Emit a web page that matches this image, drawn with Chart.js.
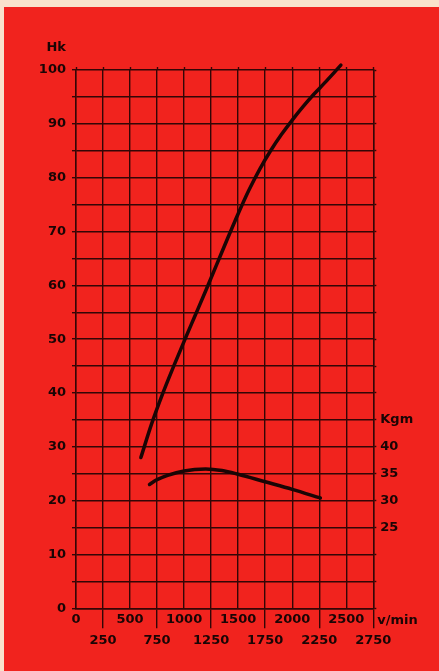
<!DOCTYPE html>
<html>
<head>
<meta charset="utf-8">
<script src="https://cdn.jsdelivr.net/npm/chart.js@4/dist/chart.umd.min.js"></script>
<style>
  html, body { margin: 0; padding: 0; background: #f9e2cc; }
  #wrap { position: relative; width: 439px; height: 671px; }
</style>
</head>
<body>
<div id="wrap"><canvas id="myChart"></canvas></div>
<script>
// rpm / Hk (effekt) och rpm / Kgm (vridmoment)
var rpmEffekt = [600, 700, 800, 900, 1000, 1100, 1200, 1300, 1400, 1500, 1600, 1700, 1800, 1900, 2000, 2100, 2200, 2300, 2450]
var hk = [28, 34.3, 39.8, 44.8, 49.6, 54.3, 59.0, 63.8, 68.6, 73.3, 77.7, 81.6, 85.0, 88.0, 90.7, 93.2, 95.5, 97.6, 100.9]

var rpmMoment = [680, 750, 1000, 1200, 1350, 1500, 1750, 2000, 2260]
var kgm = [33.0, 33.9, 35.5, 35.9, 35.6, 34.9, 33.5, 32.1, 30.5]

var xOvre = [0, 500, 1000, 1500, 2000, 2500]
var xUndre = [250, 750, 1250, 1750, 2250, 2750]
var hkEtiketter = [0, 10, 20, 30, 40, 50, 60, 70, 80, 90, 100]
var kgmEtiketter = [25, 30, 35, 40]

var rott = '#f1231e'
var svart = '#1a0505'
var rutnat = '#330606'
var font = { family: 'DejaVu Sans', weight: 'bold', size: 13 }

function punkter(xs, ys) {
    return xs.map(function (x, i) { return { x: x, y: ys[i] } })
}

var bakgrund = {
    id: 'bakgrund',
    beforeDraw: function (chart) {
        var c = chart.ctx
        c.save()
        c.fillStyle = rott
        c.fillRect(4, 7, chart.width - 4, chart.height - 7)
        c.restore()
    },
    afterDraw: function (chart) {
        var c = chart.ctx
        var x = chart.scales.x
        var y = chart.scales.y
        c.save()
        c.fillStyle = svart
        c.font = 'bold 13px "DejaVu Sans"'
        c.textBaseline = 'middle'
        c.textAlign = 'right'
        c.fillText('Hk', chart.chartArea.left - 10, y.getPixelForValue(100) - 22)
        c.textAlign = 'left'
        c.fillText('v/min', x.getPixelForValue(2750) + 4, x.top + 12)
        c.restore()
    }
}

const ctx1 = document.getElementById('myChart').getContext('2d')

new Chart(ctx1, {
    type: 'line',
    data: {
        datasets: [{
            data: punkter(rpmEffekt, hk),
            yAxisID: 'y',
            borderColor: svart,
            borderWidth: 3.5,
            borderCapStyle: 'round',
            pointRadius: 0,
            clip: false,
            cubicInterpolationMode: 'monotone'
        }, {
            data: punkter(rpmMoment, kgm),
            yAxisID: 'y2',
            borderColor: svart,
            borderWidth: 3.5,
            borderCapStyle: 'round',
            pointRadius: 0,
            clip: false,
            cubicInterpolationMode: 'monotone'
        }]
    },
    options: {
        responsive: true,
        maintainAspectRatio: false,
        animation: false,
        layout: { padding: { top: 67, left: 0, right: 0, bottom: 0 } },
        plugins: { legend: { display: false }, tooltip: { enabled: false } },
        scales: {
            x: {
                type: 'linear',
                position: 'bottom',
                min: 0,
                max: 2750,
                afterFit: function (s) { s.height = 62.7 },
                border: { display: true, color: rutnat, width: 1.4 },
                grid: {
                    color: rutnat,
                    lineWidth: 1.4,
                    tickLength: 20,
                    tickWidth: 1.4,
                    tickColor: function (c) {
                        return (c.tick && xUndre.indexOf(c.tick.value) >= 0) ? rutnat : 'rgba(0,0,0,0)'
                    }
                },
                ticks: {
                    stepSize: 250,
                    autoSkip: false,
                    maxRotation: 0,
                    padding: -19,
                    color: svart,
                    font: { family: 'DejaVu Sans', weight: 'bold', size: 13, lineHeight: 1.62 },
                    callback: function (v) {
                        if (xOvre.indexOf(v) >= 0) return [String(v), '']
                        if (xUndre.indexOf(v) >= 0) return ['', String(v)]
                        return ''
                    }
                }
            },
            x2: {
                type: 'linear',
                position: 'top',
                min: 0,
                max: 2750,
                afterFit: function (s) { s.height = 3 },
                border: { display: false },
                grid: { drawOnChartArea: false, tickLength: 3, tickColor: rutnat, tickWidth: 1.4 },
                ticks: { stepSize: 250, display: false }
            },
            y: {
                position: 'left',
                min: 0,
                max: 100,
                afterFit: function (s) { s.width = 76 },
                border: { display: true, color: rutnat, width: 1.4 },
                grid: { color: rutnat, lineWidth: 1.4, tickLength: 4, tickColor: rutnat },
                ticks: {
                    stepSize: 5,
                    autoSkip: false,
                    padding: 6,
                    color: svart,
                    font: font,
                    callback: function (v) { return hkEtiketter.indexOf(v) >= 0 ? String(v) : '' }
                }
            },
            y2: {
                position: 'right',
                min: 10,
                max: 110,
                afterFit: function (s) { s.width = 65.7 },
                border: { display: true, color: rutnat, width: 1.4 },
                grid: { drawOnChartArea: false, tickLength: 3, tickColor: rutnat, tickWidth: 1.4 },
                ticks: {
                    stepSize: 5,
                    autoSkip: false,
                    padding: 4,
                    color: svart,
                    font: font,
                    callback: function (v) {
                        if (v === 45) return 'Kgm'
                        return kgmEtiketter.indexOf(v) >= 0 ? String(v) : ''
                    }
                }
            }
        }
    },
    plugins: [bakgrund]
})
</script>
</body>
</html>
